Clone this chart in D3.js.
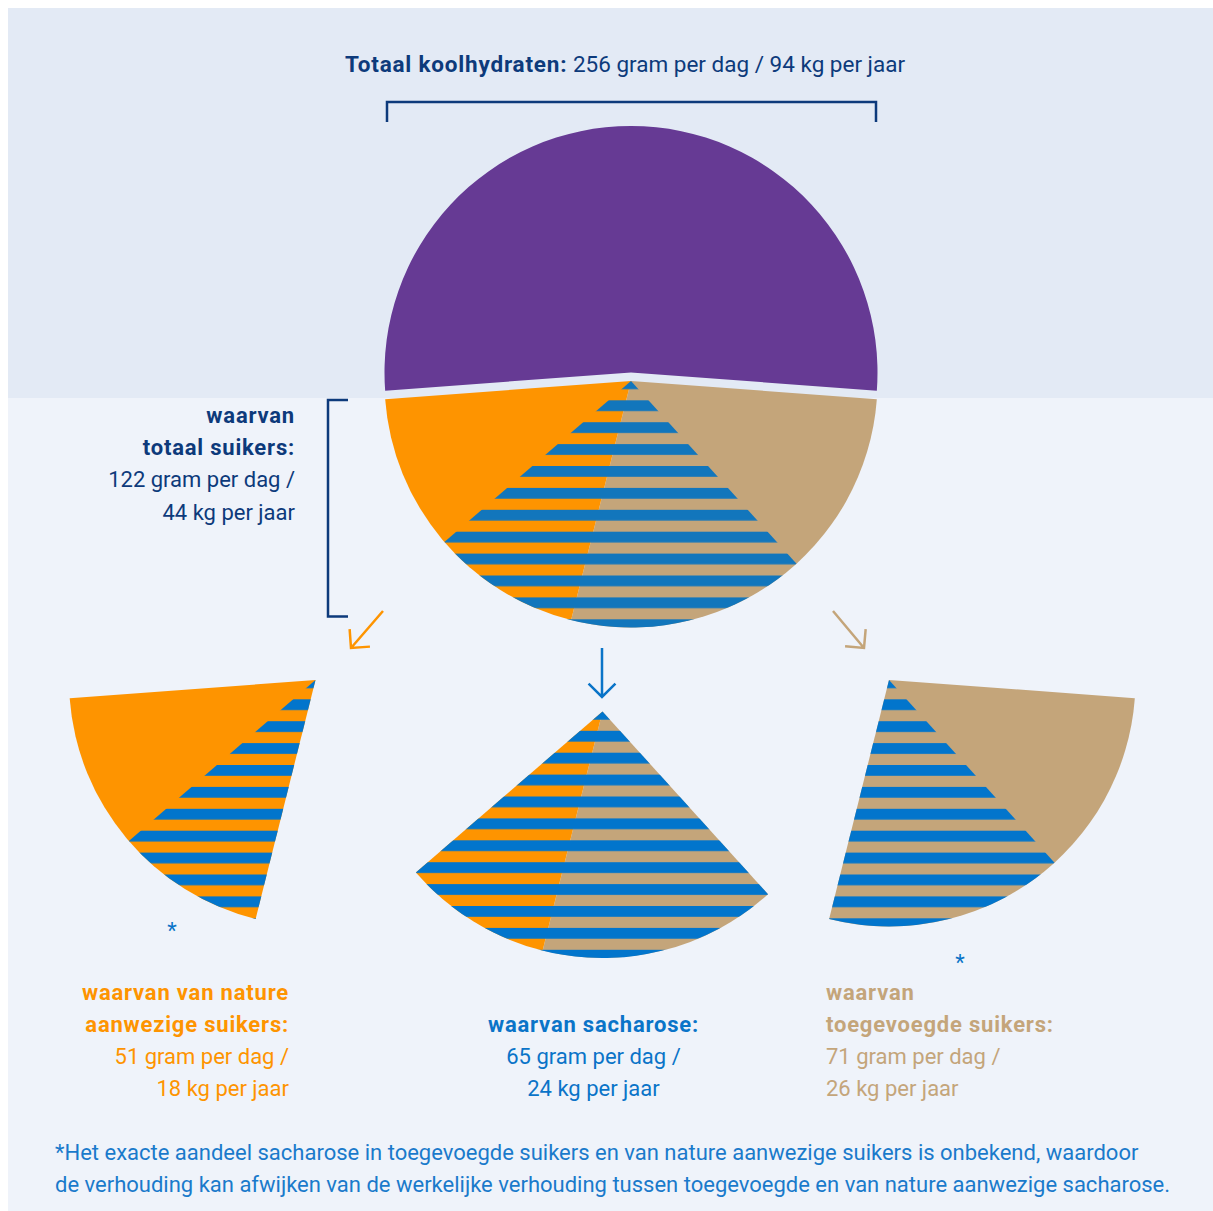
<!DOCTYPE html>
<html>
<head>
<meta charset="utf-8">
<script src="https://cdn.jsdelivr.net/npm/d3@7"></script>
<style>
  body { margin: 0; background: #ffffff; }
  text { font-family: Roboto, "Open Sans", sans-serif; }
</style>
</head>
<body>
<div id="chart"></div>
<script>
// Data (gram per dag, kg per jaar)
const totaalKoolhydraten = 256;
const totaalSuikers = 122;
const natuurSuikers = 51;
const toegevoegdeSuikers = 71;
const sacharose = 65;
// how the sacharose wedge is laid over added / natural sugars
const sacharoseVerdeling = [40, 25];
const kgPerJaar = { totaal: 94, suikers: 44, natuur: 18, sacharose: 24, toegevoegd: 26 };

const footnote = [
  "*Het exacte aandeel sacharose in toegevoegde suikers en van nature aanwezige suikers is onbekend, waardoor",
  "de verhouding kan afwijken van de werkelijke verhouding tussen toegevoegde en van nature aanwezige sacharose."
];

// Colours
const navy = "#0d3a7b";
const purple = "#663a94";
const orange = "#fe9400";
const tan = "#c4a57a";
const blueMain = "#1276bc";
const blueSmall = "#0275cc";
const blueText = "#0a74c8";

const svgWidth = 1213;
const svgHeight = 1211;
const R = 246.5;

const svg = d3.select("#chart")
  .append("svg")
  .attr("width", svgWidth)
  .attr("height", svgHeight);

// background panels
svg.append("rect").attr("x", 8).attr("y", 8).attr("width", svgWidth - 8).attr("height", svgHeight - 8).attr("fill", "#eff3fa");
svg.append("rect").attr("x", 8).attr("y", 8).attr("width", svgWidth - 8).attr("height", 390).attr("fill", "#e3eaf5");

// stripe patterns (user space so they move with each piece)
const defs = svg.append("defs");
const addPattern = (id, color) => {
  defs.append("pattern")
    .attr("id", id)
    .attr("patternUnits", "userSpaceOnUse")
    .attr("x", 0).attr("y", -2.6)
    .attr("width", 20).attr("height", 21.9)
    .append("rect")
    .attr("width", 20).attr("height", 10.8)
    .attr("fill", color);
};
addPattern("streepGroot", blueMain);
addPattern("streepKlein", blueSmall);

// angles
const angle = d3.scaleLinear().domain([0, totaalKoolhydraten]).range([0, 2 * Math.PI]);
const rest = totaalKoolhydraten - totaalSuikers;
const start = -angle(rest) / 2;

const pie = d3.pie()
  .sort(null)
  .value(d => d.value)
  .startAngle(start)
  .endAngle(start + 2 * Math.PI);

const slices = pie([
  { key: "overig", value: rest, color: purple },
  { key: "toegevoegd", value: toegevoegdeSuikers, color: tan },
  { key: "natuur", value: natuurSuikers, color: orange }
]);
const [overig, toegevoegd, natuur] = slices;
const divider = toegevoegd.endAngle;
const sach = {
  startAngle: divider - angle(sacharoseVerdeling[0]),
  endAngle: divider + angle(sacharoseVerdeling[1])
};

const arc = d3.arc().innerRadius(0).outerRadius(R);

// main pie
svg.append("g")
  .attr("transform", "translate(631, 372.5)")
  .append("path")
  .attr("d", arc(overig))
  .attr("fill", purple);

const mainG = svg.append("g").attr("transform", "translate(631, 381)");
mainG.selectAll("path.suiker")
  .data([toegevoegd, natuur])
  .enter()
  .append("path")
  .attr("class", "suiker")
  .attr("d", arc)
  .attr("fill", d => d.data.color);
mainG.append("path").attr("d", arc(sach)).attr("fill", "url(#streepGroot)");

// small pieces
const natuurG = svg.append("g").attr("transform", "translate(315.5, 680)");
natuurG.append("path").attr("d", arc(natuur)).attr("fill", orange);
natuurG.append("path")
  .attr("d", arc({ startAngle: divider, endAngle: sach.endAngle }))
  .attr("fill", "url(#streepKlein)");

const sachG = svg.append("g").attr("transform", "translate(602.5, 711.5)");
sachG.append("path").attr("d", arc({ startAngle: sach.startAngle, endAngle: divider })).attr("fill", tan);
sachG.append("path").attr("d", arc({ startAngle: divider, endAngle: sach.endAngle })).attr("fill", orange);
sachG.append("path").attr("d", arc(sach)).attr("fill", "url(#streepKlein)");

const toegG = svg.append("g").attr("transform", "translate(889, 680)");
toegG.append("path").attr("d", arc(toegevoegd)).attr("fill", tan);
toegG.append("path")
  .attr("d", arc({ startAngle: sach.startAngle, endAngle: divider }))
  .attr("fill", "url(#streepKlein)");

// brackets
svg.append("path")
  .attr("d", "M387,122V102H876V122")
  .attr("fill", "none").attr("stroke", navy).attr("stroke-width", 2.5);
svg.append("path")
  .attr("d", "M348,400H328V616.5H348")
  .attr("fill", "none").attr("stroke", navy).attr("stroke-width", 2.5);

// arrows
const arrows = [
  { from: [383, 611], to: [351, 648], color: orange },
  { from: [602, 648], to: [602, 697], color: blueText },
  { from: [833, 611], to: [864, 648], color: tan }
];
arrows.forEach(a => {
  const back = Math.atan2(a.from[1] - a.to[1], a.from[0] - a.to[0]);
  const len = 19;
  const p1 = [a.to[0] + len * Math.cos(back + Math.PI / 4), a.to[1] + len * Math.sin(back + Math.PI / 4)];
  const p2 = [a.to[0] + len * Math.cos(back - Math.PI / 4), a.to[1] + len * Math.sin(back - Math.PI / 4)];
  const path = d3.path();
  path.moveTo(...a.from); path.lineTo(...a.to);
  path.moveTo(...p1); path.lineTo(...a.to); path.lineTo(...p2);
  svg.append("path")
    .attr("d", path.toString())
    .attr("fill", "none")
    .attr("stroke", a.color)
    .attr("stroke-width", 2.5);
});

// text helpers
const fontSize = 22;
const addLines = (x, y0, anchor, color, lines, boldCount) => {
  const t = svg.append("g");
  lines.forEach((line, i) => {
    t.append("text")
      .attr("x", x)
      .attr("y", y0 + i * 32.2)
      .attr("text-anchor", anchor)
      .attr("fill", color)
      .attr("font-size", fontSize)
      .attr("font-weight", i < boldCount ? 700 : 400)
      .attr("letter-spacing", i < boldCount ? 0.8 : 0)
      .text(line);
  });
};

// title
const title = svg.append("text")
  .attr("x", 625)
  .attr("y", 72)
  .attr("text-anchor", "middle")
  .attr("fill", navy)
  .attr("font-size", 22.5);
title.append("tspan").attr("font-weight", 700).attr("letter-spacing", 0.8).text("Totaal koolhydraten:");
title.append("tspan").text(` ${totaalKoolhydraten} gram per dag / ${kgPerJaar.totaal} kg per jaar`);

addLines(295, 423, "end", navy,
  ["waarvan", "totaal suikers:", `${totaalSuikers} gram per dag /`, `${kgPerJaar.suikers} kg per jaar`], 2);
addLines(289, 999.5, "end", orange,
  ["waarvan van nature", "aanwezige suikers:", `${natuurSuikers} gram per dag /`, `${kgPerJaar.natuur} kg per jaar`], 2);
addLines(593.5, 1031.7, "middle", blueText,
  ["waarvan sacharose:", `${sacharose} gram per dag /`, `${kgPerJaar.sacharose} kg per jaar`], 1);
addLines(826, 999.5, "start", tan,
  ["waarvan", "toegevoegde suikers:", `${toegevoegdeSuikers} gram per dag /`, `${kgPerJaar.toegevoegd} kg per jaar`], 2);

// asterisks
[[172, 938], [960, 970]].forEach(p => {
  svg.append("text")
    .attr("x", p[0]).attr("y", p[1])
    .attr("text-anchor", "middle")
    .attr("fill", blueText)
    .attr("font-size", fontSize)
    .text("*");
});

// footnote
footnote.forEach((line, i) => {
  svg.append("text")
    .attr("x", 55)
    .attr("y", 1160 + i * 32)
    .attr("fill", "#1a7acb")
    .attr("font-size", 22)
    .text(line);
});
</script>
</body>
</html>
